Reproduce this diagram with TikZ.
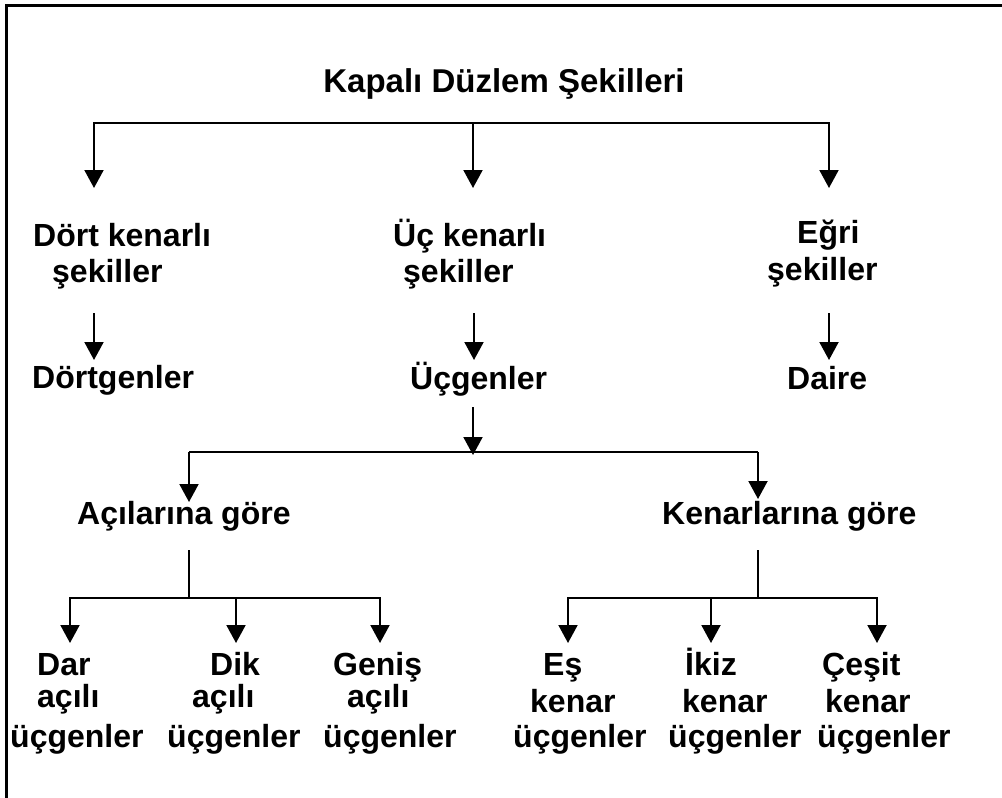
\documentclass[tikz,border=0pt]{standalone}
\usepackage{fontspec}
\setmainfont{Liberation Sans}
\usetikzlibrary{arrows.meta}

\tikzset{
  lab/.style={font=\bfseries\fontsize{32}{36}\selectfont, inner sep=0pt, align=left, anchor=base west},
  conn/.style={line width=2pt, line join=miter},
  arr/.style={conn, -{Triangle[width=19pt,length=18pt]}},
  frame/.style={line width=3pt}
}

\begin{document}
\begin{tikzpicture}[x=1pt,y=-1pt]
\useasboundingbox (0,0) rectangle (1002,798);
\draw[frame] (6,5) rectangle (1030,830);

% title
\node[font=\bfseries\fontsize{33}{36}\selectfont, inner sep=0pt, anchor=base] (root) at (504,92) {Kapalı Düzlem Şekilleri};

% second level (multi-line nodes sit on the baseline of their last line)
\node[lab] (dks) at (33,282) {Dört kenarlı\\\hspace*{19pt}şekiller};
\node[lab] (uks) at (393,282) {Üç kenarlı\\\hspace*{10pt}şekiller};
\node[lab] (egs) at (767,280) {\hspace*{30pt}Eğri\\[1pt]şekiller};

\node[lab] (dg) at (32,388) {Dörtgenler};
\node[lab] (ug) at (410,389) {Üçgenler};
\node[lab] (da) at (787,389) {Daire};

% triangle classes
\node[lab] (ac) at (77,524) {Açılarına göre};
\node[lab] (ke) at (662,524) {Kenarlarına göre};

\node[lab] (dar) at (10,747) {\hspace*{27pt}Dar\\[-4pt]\hspace*{27pt}açılı\\[4pt]üçgenler};
\node[lab] (dik) at (167,747) {\hspace*{43pt}Dik\\[-4pt]\hspace*{25pt}açılı\\[4pt]üçgenler};
\node[lab] (gen) at (323,747) {\hspace*{10pt}Geniş\\[-4pt]\hspace*{24pt}açılı\\[4pt]üçgenler};

\node[lab] (es) at (513,747) {\hspace*{30pt}Eş\\[1pt]\hspace*{17pt}kenar\\[-1pt]üçgenler};
\node[lab] (ik) at (668,747) {\hspace*{17pt}İkiz\\[1pt]\hspace*{14pt}kenar\\[-1pt]üçgenler};
\node[lab] (ce) at (817,747) {\hspace*{5pt}Çeşit\\[1pt]\hspace*{8pt}kenar\\[-1pt]üçgenler};

% joints and arrow ends
\coordinate (j1) at (473,123);
\coordinate (t1a) at (94,188);
\coordinate (t1b) at (473,188);
\coordinate (t1c) at (829,188);

\coordinate (s2a) at (94,313);
\coordinate (t2a) at (94,360);
\coordinate (s2b) at (474,313);
\coordinate (t2b) at (474,360);
\coordinate (s2c) at (829,313);
\coordinate (t2c) at (829,360);

\coordinate (s3) at (473,407);
\coordinate (j3) at (473,455);
\coordinate (t3a) at (189,502);
\coordinate (t3b) at (758,499);

\coordinate (s4a) at (189,550);
\coordinate (j4a) at (189,598);
\coordinate (t4a) at (70,643);
\coordinate (t4b) at (236,643);
\coordinate (t4c) at (380,643);

\coordinate (s4b) at (758,550);
\coordinate (j4b) at (758,598);
\coordinate (t4d) at (568,643);
\coordinate (t4e) at (711,643);
\coordinate (t4f) at (877,643);

% connectors
\draw[arr] (j1) -| (t1a);
\draw[arr] (j1) -| (t1c);
\draw[arr] (j1) -- (t1b);

\draw[arr] (s2a) -- (t2a);
\draw[arr] (s2b) -- (t2b);
\draw[arr] (s2c) -- (t2c);

\draw[arr] (s3) -- (j3);
\draw[conn] (t3a |- 0,452) -- (t3b |- 0,452);
\draw[arr] (t3a |- 0,452) -- (t3a);
\draw[arr] (t3b |- 0,452) -- (t3b);

\draw[conn] (s4a) -- (j4a);
\draw[arr] (j4a) -| (t4a);
\draw[arr] (j4a) -| (t4c);
\draw[arr] (t4b |- j4a) -- (t4b);

\draw[conn] (s4b) -- (j4b);
\draw[arr] (j4b) -| (t4d);
\draw[arr] (j4b) -| (t4f);
\draw[arr] (t4e |- j4b) -- (t4e);
\end{tikzpicture}
\end{document}
